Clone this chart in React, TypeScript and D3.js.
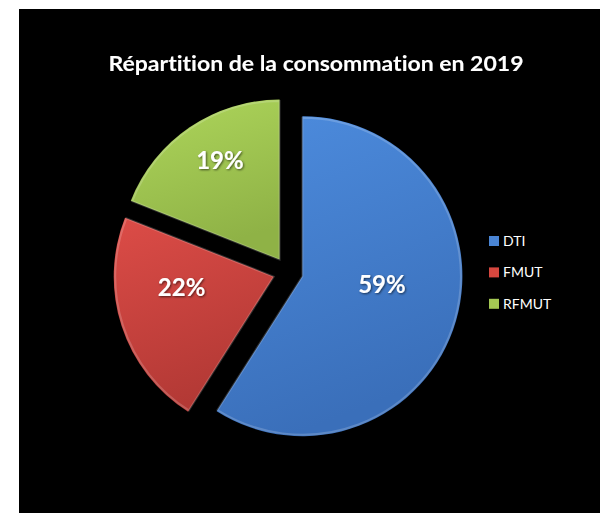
import React from "react";
import * as d3 from "d3";

const categories = ["DTI", "FMUT", "RFMUT"];
const values = [59, 22, 19];
const percentLabels = ["59%", "22%", "19%"];
const title = "Répartition de la consommation en 2019";

const W = 600;
const H = 513;
const CX = 288;
const CY = 272;
const R = 160;
const EXPLODE = 15;

const colorsTop = ["#4D8CDE", "#DC4C47", "#AED65B"];
const colorsBot = ["#3A6FBA", "#B33935", "#8FB246"];
const legendColors = ["#4A85D4", "#D6473F", "#A4C853"];
// label placement (layout): radius fraction and angular nudge (deg)
const labelRadiusFrac = [0.5, 0.58, 0.72];
const labelAngleNudge = [-10, 11, 3];

export default function App() {
  const pie = d3.pie<number>().sort(null).value((d) => d).startAngle(0).endAngle(2 * Math.PI);
  const arcs = pie(values);
  const arcGen = d3.arc<d3.PieArcDatum<number>>().innerRadius(0).outerRadius(R);

  return (
    <svg
      width={W}
      height={H}
      style={{ position: "absolute", left: 0, top: 0, fontVariantLigatures: "none" }}
      fontFamily="Lato, 'Open Sans', sans-serif"
    >
      <defs>
        {arcs.map((a, i) => (
          <linearGradient key={i} id={`g${i}`} x1="0" y1="0" x2="0.3" y2="1">
            <stop offset="0%" stopColor={colorsTop[i]} />
            <stop offset="100%" stopColor={colorsBot[i]} />
          </linearGradient>
        ))}
        <filter id="ts" x="-20%" y="-20%" width="140%" height="140%">
          <feDropShadow dx="1" dy="1" stdDeviation="0.8" floodColor="#000" floodOpacity="0.6" />
        </filter>
      </defs>
      <rect x={0} y={0} width={W} height={H} fill="#fff" />
      <rect x={19} y={9} width={W - 19} height={H - 9} fill="#000" />
      <text
        x={316}
        y={71}
        textAnchor="middle"
        fill="#fff"
        fontWeight="bold"
        fontSize={21}
        textLength={415}
        lengthAdjust="spacingAndGlyphs"
        filter="url(#ts)"
        style={{ fontVariantLigatures: "none" }}
      >
        {title}
      </text>
      {arcs.map((a, i) => {
        const mid = (a.startAngle + a.endAngle) / 2;
        const ox = CX + EXPLODE * Math.sin(mid);
        const oy = CY - EXPLODE * Math.cos(mid);
        const la = mid + (labelAngleNudge[i] * Math.PI) / 180;
        const lr = R * labelRadiusFrac[i];
        const lx = lr * Math.sin(la);
        const ly = -lr * Math.cos(la);
        return (
          <g key={i} transform={`translate(${ox},${oy})`}>
            <path d={arcGen(a) || ""} fill={`url(#g${i})`} />
            <path
              d={d3.arc<d3.PieArcDatum<number>>().innerRadius(0).outerRadius(R - 1.5)(a) || ""}
              fill="none"
              stroke="#ffffff"
              strokeOpacity={0.18}
              strokeWidth={2}
            />
            <text
              x={lx}
              y={ly}
              dy="0.35em"
              textAnchor="middle"
              fill="#fff"
              fontWeight="bold"
              fontSize={24}
              filter="url(#ts)"
            >
              {percentLabels[i]}
            </text>
          </g>
        );
      })}
      {categories.map((c, i) => (
        <g key={c} transform={`translate(489,${241 + i * 31.4})`}>
          <rect x={0} y={-5} width={10} height={10} fill={legendColors[i]} />
          <text x={14} y={0} dy="0.36em" fill="#fff" fontSize={14}>
            {c}
          </text>
        </g>
      ))}
    </svg>
  );
}
